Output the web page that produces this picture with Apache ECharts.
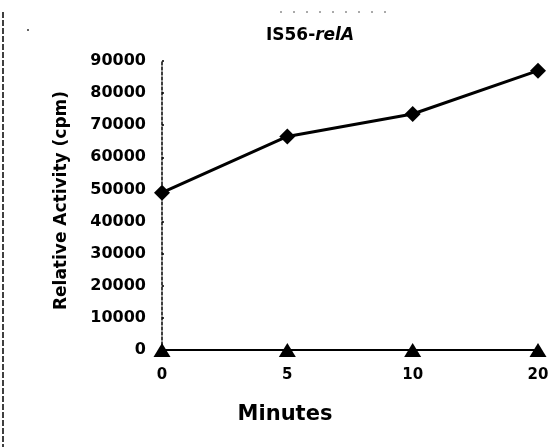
<!DOCTYPE html>
<html>
<head>
<meta charset="utf-8">
<style>
  html, body { margin: 0; padding: 0; background: #fff; }
  #chart { width: 558px; height: 447px; }
</style>
<script src="https://cdn.jsdelivr.net/npm/echarts@6/dist/echarts.min.js"></script>
</head>
<body>
<div id="chart"></div>
<script>
// Time points (minutes) along the x axis
const minutes = ['0', '5', '10', '20'];
// IS56-relA activity (diamond markers)
const relAActivity = [49000, 66500, 73500, 87000];
// Control activity (triangle markers)
const controlActivity = [0, 0, 0, 0];
// Y axis range and step
const yMin = 0;
const yMax = 90000;
const yStep = 10000;

const FONT = '"DejaVu Sans", sans-serif';

const chart = echarts.init(document.getElementById('chart'), null, { renderer: 'canvas' });

chart.setOption({
  animation: false,
  backgroundColor: '#ffffff',
  title: {
    text: '{a|IS56-}{b|relA}',
    left: 305,
    top: 22,
    textAlign: 'center',
    textStyle: {
      rich: {
        a: { fontFamily: FONT, fontWeight: 'bold', fontSize: 17, color: '#000' },
        b: { fontFamily: FONT, fontWeight: 'bold', fontStyle: 'italic', fontSize: 17, color: '#000' }
      }
    }
  },
  grid: { left: 162, right: 20, top: 61, bottom: 97, containLabel: false },
  xAxis: {
    type: 'category',
    data: minutes,
    boundaryGap: false,
    axisLine: { show: false },
    axisTick: { show: false },
    axisLabel: {
      margin: 18,
      fontFamily: FONT, fontWeight: 'bold', fontSize: 15, color: '#000'
    },
    name: 'Minutes',
    nameLocation: 'middle',
    nameGap: 54,
    nameTextStyle: {
      fontFamily: FONT, fontWeight: 'bold', fontSize: 21, color: '#000',
      padding: [0, 130, 0, 0]
    },
    splitLine: { show: false }
  },
  yAxis: {
    type: 'value',
    min: yMin,
    max: yMax,
    interval: yStep,
    axisLine: { show: true, lineStyle: { color: '#000', width: 1.5, type: [3, 2] } },
    axisTick: { show: true, length: 2, inside: true, lineStyle: { color: '#000', width: 1.5 } },
    axisLabel: {
      margin: 16,
      fontFamily: FONT, fontWeight: 'bold', fontSize: 16, color: '#000',
      formatter: (v) => String(v)
    },
    splitLine: { show: false },
    name: 'Relative Activity (cpm)',
    nameLocation: 'middle',
    nameRotate: 90,
    nameGap: 92,
    nameTextStyle: {
      fontFamily: FONT, fontWeight: 'bold', fontSize: 17, color: '#000',
      padding: [0, 0, 0, 10]
    }
  },
  series: [
    {
      name: 'IS56-relA',
      type: 'line',
      data: relAActivity,
      symbol: 'diamond',
      symbolSize: 16,
      clip: false,
      lineStyle: { color: '#000', width: 3 },
      itemStyle: { color: '#000' },
      z: 3
    },
    {
      name: 'control',
      type: 'line',
      data: controlActivity,
      symbol: 'triangle',
      symbolSize: [17, 14],
      clip: false,
      lineStyle: { color: '#000', width: 2 },
      itemStyle: { color: '#000' },
      z: 2
    }
  ],
  graphic: [
    {
      type: 'line',
      shape: { x1: 3, y1: 12, x2: 3, y2: 447 },
      style: { stroke: '#000', lineWidth: 1.5, lineDash: [6, 2] },
      silent: true
    },
    {
      type: 'line',
      shape: { x1: 280, y1: 12, x2: 395, y2: 12 },
      style: { stroke: '#555', lineWidth: 1, lineDash: [2, 11] },
      silent: true
    },
    {
      type: 'circle',
      shape: { cx: 28, cy: 30, r: 1 },
      style: { fill: '#333' },
      silent: true
    }
  ]
});
</script>
</body>
</html>
